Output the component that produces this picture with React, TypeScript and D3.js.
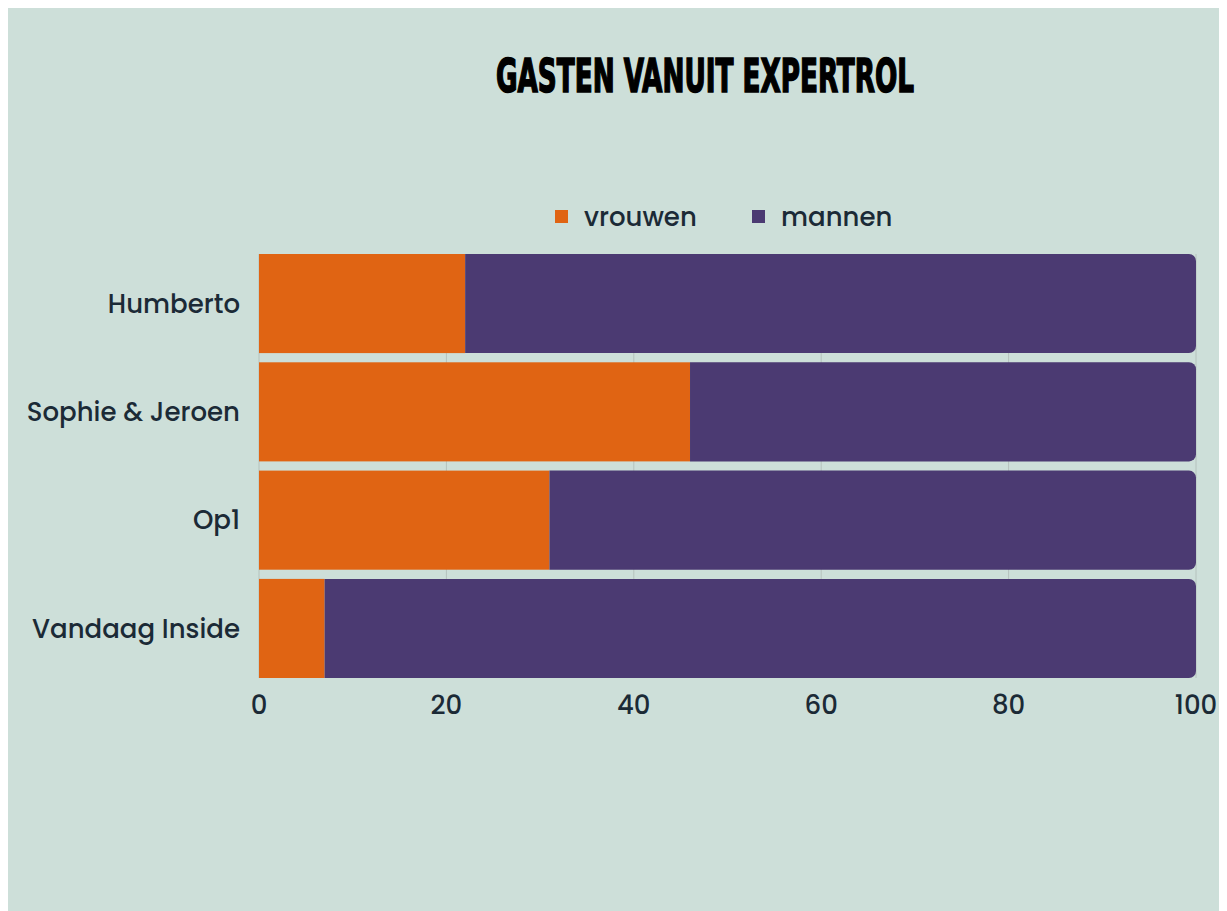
import { useEffect, useRef } from 'react';
import * as d3 from 'd3';

const shows = ['Humberto', 'Sophie & Jeroen', 'Op1', 'Vandaag Inside'];
const vrouwen = [22, 46, 31, 7];
const mannen = [78, 54, 69, 93];
const seriesNames = ['vrouwen', 'mannen'];
const xTicks = [0, 20, 40, 60, 80, 100];

const App = () => {
    const svgRef = useRef<SVGSVGElement>(null);

    useEffect(() => {
        const w = 1211;
        const h = 903;
        const margin = { top: 246, left: 251, right: 23, bottom: 233 };
        const colors = ['#e06413', '#4b3a72'];
        const textColor = '#1b2a36';
        const font = 'Poppins, Lato, "Open Sans", sans-serif';

        const svg = d3.select(svgRef.current);
        svg.selectAll('*').remove();
        svg.attr('width', w).attr('height', h);

        svg.append('rect').attr('width', w).attr('height', h).attr('fill', '#cddfd9');

        const x = d3.scaleLinear().domain([0, 100]).range([margin.left, w - margin.right]);
        const y = d3.scaleBand().domain(shows).range([margin.top, h - margin.bottom]).paddingInner(0.085).paddingOuter(0.0);

        //gridlines
        svg.append('g')
            .selectAll('line')
            .data(xTicks)
            .enter().append('line')
            .attr('x1', d => x(d)).attr('x2', d => x(d))
            .attr('y1', margin.top).attr('y2', h - margin.bottom)
            .attr('stroke', '#b5c2bd')
            .attr('stroke-width', 1);

        const stackData = shows.map((s, i) => ({ show: s, vrouwen: vrouwen[i], mannen: mannen[i] }));
        const stack = d3.stack<any>().keys(seriesNames)(stackData);

        const r = 7;
        stack.forEach((layer, li) => {
            const g = svg.append('g').attr('fill', colors[li]);
            layer.forEach(d => {
                const x0 = x(d[0]);
                const x1 = x(d[1]);
                const y0 = y(d.data.show)!;
                const bh = y.bandwidth();
                if (li === seriesNames.length - 1) {
                    // rounded right corners
                    const p = d3.path();
                    p.moveTo(x0, y0);
                    p.lineTo(x1 - r, y0);
                    p.arcTo(x1, y0, x1, y0 + r, r);
                    p.lineTo(x1, y0 + bh - r);
                    p.arcTo(x1, y0 + bh, x1 - r, y0 + bh, r);
                    p.lineTo(x0, y0 + bh);
                    p.closePath();
                    g.append('path').attr('d', p.toString());
                } else {
                    g.append('rect')
                        .attr('x', x0).attr('y', y0)
                        .attr('width', x1 - x0).attr('height', bh);
                }
            });
        });

        //category labels
        svg.append('g')
            .selectAll('text')
            .data(shows)
            .enter().append('text')
            .attr('x', margin.left - 19)
            .attr('y', d => y(d)! + y.bandwidth() / 2)
            .attr('dy', '0.35em')
            .attr('text-anchor', 'end')
            .attr('fill', textColor)
            .style('font-family', font)
            .style('font-weight', 500)
            .style('font-size', '26px')
            .text(d => d);

        //x tick labels
        svg.append('g')
            .selectAll('text')
            .data(xTicks)
            .enter().append('text')
            .attr('x', d => x(d))
            .attr('y', h - margin.bottom + 27)
            .attr('dy', '0.35em')
            .attr('text-anchor', 'middle')
            .attr('fill', textColor)
            .style('font-family', font)
            .style('font-weight', 500)
            .style('font-size', '26px')
            .text(d => d);

        //legend
        const legendX = [547, 744];
        const legend = svg.append('g')
            .selectAll('g')
            .data(seriesNames)
            .enter().append('g')
            .attr('transform', (d, i) => `translate(${legendX[i]}, 202)`);
        legend.append('rect')
            .attr('width', 13).attr('height', 13)
            .attr('fill', (d, i) => colors[i]);
        legend.append('text')
            .attr('x', 29).attr('y', 7)
            .attr('dy', '0.35em')
            .attr('fill', textColor)
            .style('font-family', font)
            .style('font-weight', 500)
            .style('font-size', '26px')
            .text(d => d);

        //title
        svg.append('text')
            .attr('x', 488)
            .attr('y', 84)
            .attr('textLength', 418)
            .attr('lengthAdjust', 'spacingAndGlyphs')
            .attr('fill', '#000')
            .attr('stroke', '#000')
            .attr('stroke-width', 1.6)
            .style('font-family', '"DejaVu Sans Condensed", "Liberation Sans Narrow", sans-serif')
            .style('font-weight', 'bold')
            .style('font-size', '46px')
            .text('GASTEN VANUIT EXPERTROL');
    }, []);

    return <svg ref={svgRef} style={{ display: 'block' }}></svg>;
};

export default App;
